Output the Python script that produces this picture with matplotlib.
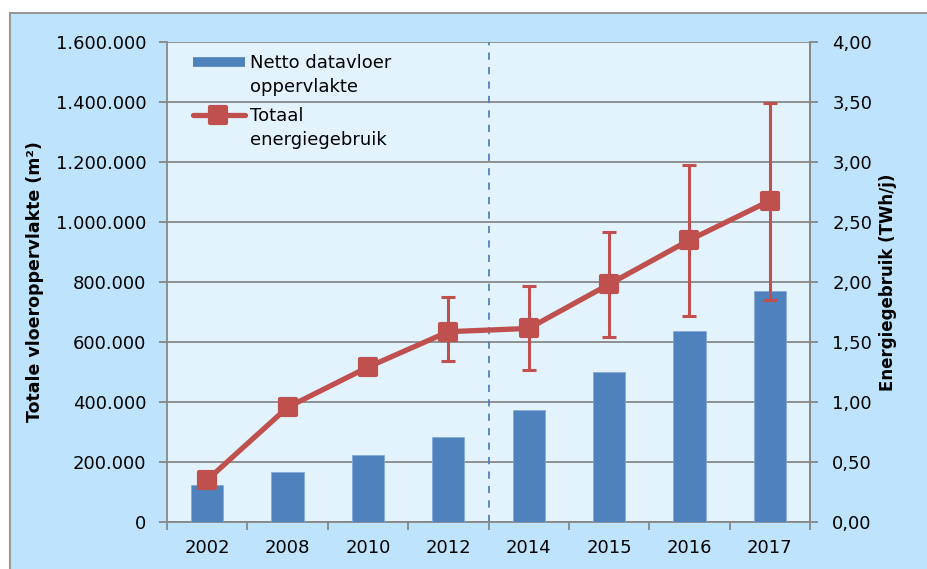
import numpy as np
import matplotlib
matplotlib.use('Agg')
from matplotlib import pyplot as plt
from matplotlib.lines import Line2D
from matplotlib.markers import MarkerStyle
from matplotlib.patches import Rectangle

# Data

years = ['2002', '2008', '2010', '2012', '2014', '2015', '2016', '2017']
floor_area = [123000, 167000, 224000, 282000, 373000, 501000, 636000, 770000]
energy = [0.35, 0.955, 1.29, 1.585, 1.612, 1.98, 2.348, 2.675]
err_low = [np.nan, np.nan, np.nan, 1.34, 1.268, 1.543, 1.718, 1.848]
err_high = [np.nan, np.nan, np.nan, 1.873, 1.967, 2.417, 2.972, 3.49]

left_ticks = [0, 200000, 400000, 600000, 800000, 1000000, 1200000, 1400000, 1600000]
left_labels = ['0', '200.000', '400.000', '600.000', '800.000', '1.000.000',
               '1.200.000', '1.400.000', '1.600.000']
right_ticks = [0, 0.5, 1.0, 1.5, 2.0, 2.5, 3.0, 3.5, 4.0]
right_labels = ['0,00', '0,50', '1,00', '1,50', '2,00', '2,50', '3,00', '3,50', '4,00']

blue = '#4F81BD'
red = '#C0504D'
grey = '#888888'

plt.rcParams['font.family'] = 'DejaVu Sans'
plt.rcParams['font.size'] = 13

W, H = 927, 569
fig = plt.figure(figsize=(W / 100, H / 100), dpi=100, facecolor='white')
fig.patch.set_edgecolor('none')

def fx(px):
    return px / W

def fy(py):
    return 1 - py / H

# outer chart area: light blue with a grey border on top and left
fig.patches.append(Rectangle((fx(10), 0), 1, fy(13), transform=fig.transFigure,
                             facecolor='#BDE4FC', edgecolor='none', zorder=-10))
fig.lines.append(Line2D([fx(10), 1], [fy(13), fy(13)], transform=fig.transFigure,
                        color='#999999', linewidth=1.5, zorder=-9))
fig.lines.append(Line2D([fx(10), fx(10)], [0, fy(13)], transform=fig.transFigure,
                        color='#999999', linewidth=1.5, zorder=-9))

ax = fig.add_axes([fx(167), fy(522), fx(810) - fx(167), fy(41.7) - fy(522)])
ax.set_facecolor('#E2F3FD')
x = np.arange(len(years))

ax.bar(x, floor_area, width=0.4, color=blue, edgecolor='#86AADA', linewidth=0.6, zorder=3)
ax.set_ylim(0, 1600000)
ax.set_xlim(-0.5, len(years) - 0.5)
ax.set_yticks(left_ticks)
ax.set_yticklabels(left_labels)
ax.yaxis.grid(True, color=grey, linewidth=1.3, zorder=1)
ax.set_axisbelow(True)
ax.set_xticks(x)
ax.set_xticklabels(years)
ax.set_xticks(np.arange(-0.5, len(years)), minor=True)
ax.tick_params(axis='x', which='major', length=0, pad=12)
ax.tick_params(axis='x', which='minor', length=6, width=1.3, color=grey, direction='out')
ax.tick_params(axis='y', length=6, width=1.3, color=grey, direction='out', pad=9)
for s in ['left', 'bottom', 'right']:
    ax.spines[s].set_color(grey)
    ax.spines[s].set_linewidth(1.3)
ax.spines['top'].set_visible(False)
ax.set_ylabel('Totale vloeroppervlakte (m²)', fontweight='bold', fontsize=12.5, labelpad=8)

ax.axvline(3.5, color=blue, linestyle=(0, (4, 4)), linewidth=1.3, zorder=2)

ax2 = ax.twinx()
ax2.set_ylim(0, 4)
ax2.set_yticks(right_ticks)
ax2.set_yticklabels(right_labels)
ax2.tick_params(axis='y', length=6, width=1.3, color=grey, direction='out', pad=10)
for s in ['left', 'bottom', 'top']:
    ax2.spines[s].set_visible(False)
ax2.spines['right'].set_color(grey)
ax2.spines['right'].set_linewidth(1.3)
ax2.set_ylabel('Energiegebruik (TWh/j)', fontweight='bold', fontsize=12, labelpad=5)

rsq = MarkerStyle('s', joinstyle='round')

energy = np.array(energy)
lo = energy - np.array(err_low)
hi = np.array(err_high) - energy
ax2.errorbar(x, energy, yerr=[lo, hi], fmt='none', ecolor=red, elinewidth=2.2,
             capsize=5, capthick=2.2, zorder=4)
ax2.plot(x, energy, color=red, linewidth=3.8, marker=rsq, markersize=11.5,
         markerfacecolor=red, markeredgecolor=red, markeredgewidth=3, zorder=5,
         solid_joinstyle='round')

# legend drawn by hand so that each key lines up with the first text line
fig.lines.append(Line2D([fx(193), fx(245)], [fy(62), fy(62)], transform=fig.transFigure,
                        color=blue, linewidth=7, solid_capstyle='butt'))
fig.lines.append(Line2D([fx(193), fx(218), fx(245)], [fy(115)] * 3, transform=fig.transFigure,
                        color=red, linewidth=3.8, solid_capstyle='round',
                        marker=rsq, markersize=11.5, markeredgewidth=3,
                        markeredgecolor=red, markevery=[1]))
fig.text(fx(250), fy(54), 'Netto datavloer\noppervlakte', va='top', ha='left',
         linespacing=1.4)
fig.text(fx(250), fy(107), 'Totaal\nenergiegebruik', va='top', ha='left',
         linespacing=1.4)

fig.savefig('out.png', dpi=100, facecolor='white')
